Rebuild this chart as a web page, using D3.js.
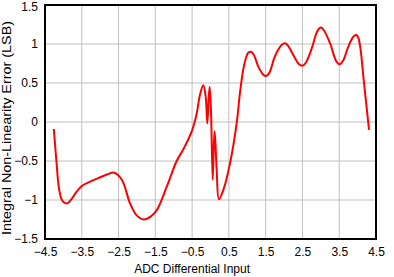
<!DOCTYPE html>
<html>
<head>
<meta charset="utf-8">
<script src="https://cdn.jsdelivr.net/npm/d3@7"></script>
<style>
  body { margin: 0; background: #fff; }
  text { font-family: "Liberation Sans", Arial, sans-serif; fill: #000; }
</style>
</head>
<body>
<div id="chart"></div>
<script>
// INL curve
var inputs = [-4.26, -4.19, -4.12, -4.04, -3.95, -3.88, -3.78, -3.65, -3.50, -3.30, -3.05, -2.80, -2.62, -2.41, -2.19,
              -2.00, -1.81, -1.62, -1.46, -1.19, -0.92, -0.75, -0.51, -0.375, -0.286, -0.196, -0.13, -0.087, -0.05,
              -0.022, 0.013, 0.06, 0.09, 0.114, 0.168, 0.23, 0.35, 0.53, 0.71, 0.80, 0.89, 0.97, 1.03, 1.10, 1.18,
              1.30, 1.43, 1.51, 1.60, 1.75, 1.94, 2.03, 2.12, 2.25, 2.41, 2.50, 2.59, 2.75, 2.91, 3.00, 3.09,
              3.25, 3.43, 3.52, 3.61, 3.75, 3.88, 3.96, 4.02, 4.08, 4.17, 4.31];
var inl =    [-0.09, -0.50, -0.85, -1.00, -1.04, -1.04, -0.99, -0.90, -0.82, -0.77, -0.72, -0.67, -0.65, -0.74, -1.04,
              -1.20, -1.25, -1.21, -1.13, -0.83, -0.50, -0.36, -0.12, 0.11, 0.35, 0.47, 0.32, -0.02, 0.30,
              0.45, 0.15, -0.74, -0.30, -0.12, -0.62, -0.99, -0.87, -0.53, -0.02, 0.37, 0.67, 0.83, 0.89, 0.90, 0.86,
              0.71, 0.61, 0.59, 0.63, 0.84, 0.99, 1.01, 0.97, 0.86, 0.74, 0.72, 0.76, 0.94, 1.17, 1.21, 1.17,
              1.01, 0.77, 0.74, 0.79, 0.97, 1.09, 1.12, 1.08, 0.93, 0.52, -0.10];

var xTicks = [-4.5, -3.5, -2.5, -1.5, -0.5, 0.5, 1.5, 2.5, 3.5, 4.5];
var yTicks = [-1.5, -1, -0.5, 0, 0.5, 1, 1.5];

var margin = { top: 5, right: 18, bottom: 38, left: 45 };
var width = 394 - margin.left - margin.right;
var height = 277 - margin.top - margin.bottom;

var svg = d3.select('#chart')
    .append('svg')
    .attr('width', 394)
    .attr('height', 277)
    .append('g')
    .attr('transform', 'translate(' + margin.left + ',' + margin.top + ')');

var x = d3.scaleLinear().domain([-4.5, 4.5]).range([0, width]);
var y = d3.scaleLinear().domain([-1.5, 1.5]).range([height, 0]);

var fmt = function(d) { return String(d).replace('-', '\u2212'); };

// grid
svg.selectAll('.vgrid')
    .data(xTicks)
    .enter().append('line')
    .attr('x1', function(d) { return x(d); })
    .attr('x2', function(d) { return x(d); })
    .attr('y1', 0)
    .attr('y2', height)
    .attr('stroke', '#c0c0c0')
    .attr('stroke-width', 1);

svg.selectAll('.hgrid')
    .data(yTicks)
    .enter().append('line')
    .attr('x1', 0)
    .attr('x2', width)
    .attr('y1', function(d) { return y(d); })
    .attr('y2', function(d) { return y(d); })
    .attr('stroke', '#c0c0c0')
    .attr('stroke-width', 1);

// x axis labels
var xAxis = svg.append('g')
    .attr('transform', 'translate(0,' + height + ')')
    .call(d3.axisBottom(x).tickValues(xTicks).tickSize(0).tickPadding(8).tickFormat(fmt));
xAxis.select('.domain').remove();
xAxis.selectAll('text').style('font-size', '12px').attr('fill', '#000');

// y axis labels
var yAxis = svg.append('g')
    .call(d3.axisLeft(y).tickValues(yTicks).tickSize(0).tickPadding(7).tickFormat(fmt));
yAxis.select('.domain').remove();
yAxis.selectAll('text').style('font-size', '12px').attr('fill', '#000');
// keep the top label inside the picture
yAxis.selectAll('text').filter(function(d) { return d === 1.5; }).attr('dy', '0.42em');

// the curve
var line = d3.line()
    .x(function(d) { return x(d[0]); })
    .y(function(d) { return y(d[1]); })
    .curve(d3.curveCatmullRom.alpha(0.5));

svg.append('path')
    .datum(d3.zip(inputs, inl))
    .attr('d', line)
    .attr('fill', 'none')
    .attr('stroke', '#ff0000')
    .attr('stroke-width', 2);

// frame
svg.append('rect')
    .attr('x', 0)
    .attr('y', 0)
    .attr('width', width)
    .attr('height', height)
    .attr('fill', 'none')
    .attr('stroke', '#000')
    .attr('stroke-width', 2);

// axis titles
svg.append('text')
    .attr('x', x(-0.5))
    .attr('y', height + 34)
    .attr('text-anchor', 'middle')
    .style('font-size', '12px')
    .text('ADC Differential Input');

svg.append('text')
    .attr('transform', 'rotate(-90)')
    .attr('x', -(128 - margin.top))
    .attr('y', 11 - margin.left)
    .attr('text-anchor', 'middle')
    .attr('textLength', 214)
    .attr('lengthAdjust', 'spacingAndGlyphs')
    .style('font-size', '12px')
    .text('Integral Non-Linearity Error (LSB)');
</script>
</body>
</html>
